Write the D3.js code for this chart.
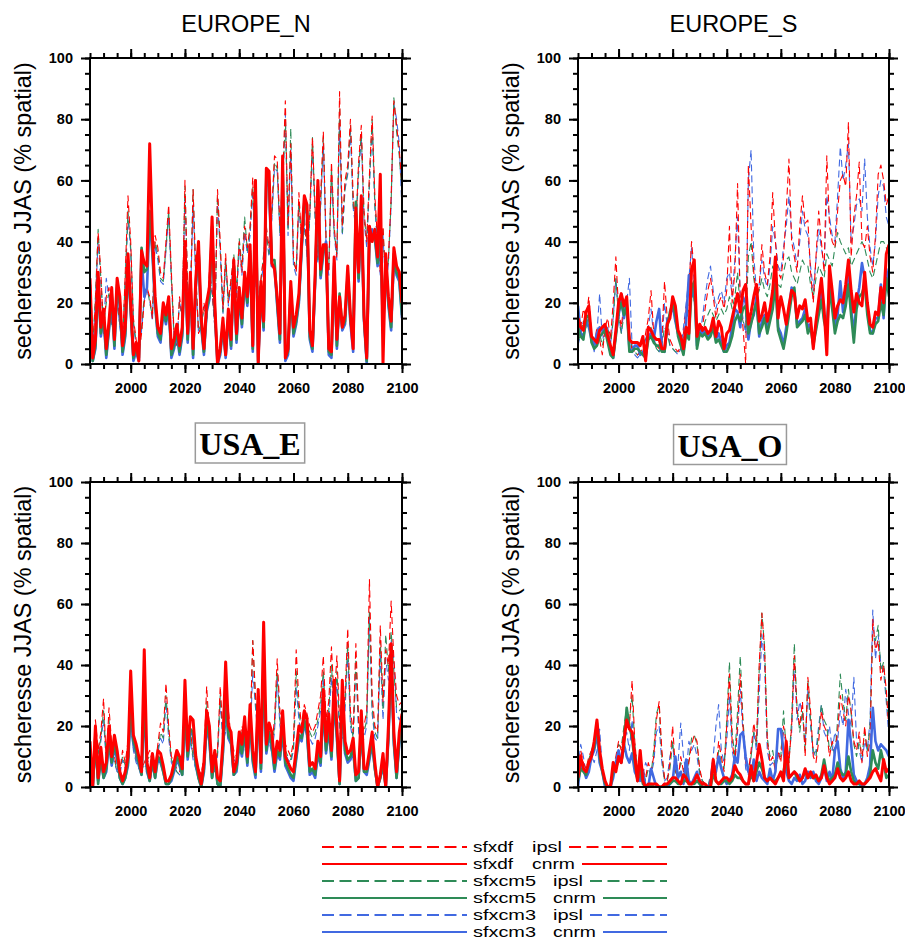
<!DOCTYPE html>
<html><head><meta charset="utf-8">
<script src="https://cdn.jsdelivr.net/npm/d3@7"></script>
<style>
body{margin:0;background:#fff;}
svg{display:block;}
text{font-family:"Liberation Sans",Arial,Helvetica,sans-serif;}
</style>
</head><body>
<svg id="chart" width="905" height="943"></svg>
<script>
// ---------------- categories / ticks ----------------
const years = [
1985,1986,1987,1988,1989,1990,1991,1992,1993,1994,
1995,1996,1997,1998,1999,2000,2001,2002,2003,2004,
2005,2006,2007,2008,2009,2010,2011,2012,2013,2014,
2015,2016,2017,2018,2019,2020,2021,2022,2023,2024,
2025,2026,2027,2028,2029,2030,2031,2032,2033,2034,
2035,2036,2037,2038,2039,2040,2041,2042,2043,2044,
2045,2046,2047,2048,2049,2050,2051,2052,2053,2054,
2055,2056,2057,2058,2059,2060,2061,2062,2063,2064,
2065,2066,2067,2068,2069,2070,2071,2072,2073,2074,
2075,2076,2077,2078,2079,2080,2081,2082,2083,2084,
2085,2086,2087,2088,2089,2090,2091,2092,2093,2094,
2095,2096,2097,2098,2099,2100];
const regionNames = ["EUROPE_N","EUROPE_S","USA_E","USA_O"];
const legendModels = ["sfxdf","sfxdf","sfxcm5","sfxcm5","sfxcm3","sfxcm3"];
const legendForcings = ["ipsl","cnrm","ipsl","cnrm","ipsl","cnrm"];
const xMajorTicks = [2000,2020,2040,2060,2080,2100];
const xMinorTicks = [1985,1990,1995,2000,2005,2010,2015,2020,2025,2030,2035,2040,2045,2050,2055,2060,2065,2070,2075,2080,2085,2090,2095,2100];
const yMajorTicks = [0,20,40,60,80,100];
const yMinorTicks = [0,5,10,15,20,25,30,35,40,45,50,55,60,65,70,75,80,85,90,95,100];
const yAxisTitle = "secheresse JJAS (% spatial)";

// ---------------- EUROPE_N ----------------
const eurN_sfxdf_ipsl = [
15,4,20,43,30,10,22,25,15,8,
22,14,6,30,55,40,15,8,3,10,
20,25,22,15,42,38,30,28,40,52,
30,10,6,22,15,60,25,20,57,30,
10,12,20,15,30,25,12,57,40,18,
36,20,28,35,22,40,30,45,38,45,
61,30,20,28,35,45,38,50,68,67,
45,60,86,45,72,35,30,56,40,48,
38,50,74,50,35,55,76,40,30,66,
45,35,89,45,60,65,80,55,45,66,
78,50,40,62,81,55,40,30,45,25,
35,55,86,78,70,58];
const eurN_sfxdf_cnrm = [
28,2,8,30,12,18,5,14,25,8,
28,22,6,12,36,20,3,7,1,37,
33,32,72,42,22,12,10,20,16,22,
5,8,13,6,12,40,10,30,5,28,
40,15,5,20,25,48,20,0,5,15,
3,18,8,34,10,25,15,30,22,39,
6,60,0,27,14,64,63,33,31,22,
10,68,2,5,27,12,16,23,40,55,
52,11,6,30,60,31,39,39,5,4,
35,8,22,12,16,32,16,5,51,30,
55,16,2,45,40,44,35,62,0,36,
22,14,38,32,30,20];
const eurN_sfxcm5_ipsl = [
14,5,22,44,28,12,20,23,14,7,
20,13,7,28,50,38,14,7,4,12,
22,26,20,16,40,36,28,27,38,50,
28,9,7,20,16,58,24,22,57,28,
11,13,18,16,28,24,13,55,38,17,
34,21,27,36,24,41,32,48,37,44,
58,28,21,27,36,43,36,48,66,64,
43,58,80,44,77,33,31,53,41,46,
37,48,74,48,34,52,74,42,31,64,
43,36,84,43,58,63,78,52,46,64,
75,48,41,60,80,52,42,32,44,26,
34,53,87,76,68,56];
const eurN_sfxcm5_cnrm = [
26,1,6,28,10,16,3,12,23,6,
26,20,4,10,33,18,2,5,2,38,
30,31,50,38,20,10,8,18,14,20,
3,6,11,4,10,38,8,28,3,26,
38,13,4,18,22,45,18,1,4,13,
3,16,6,32,8,23,13,28,20,37,
5,60,1,25,12,62,60,34,34,20,
8,65,2,4,25,10,14,21,38,53,
50,9,5,28,58,29,37,38,4,3,
33,6,23,12,14,30,14,8,53,28,
52,15,1,43,42,42,33,45,12,34,
20,12,36,30,28,16];
const eurN_sfxcm3_ipsl = [
13,4,21,40,27,11,28,22,13,8,
21,12,6,27,48,37,13,6,3,11,
21,24,21,14,39,34,27,26,37,48,
27,8,6,21,14,55,23,21,52,27,
10,12,19,14,27,23,12,54,37,16,
33,19,26,33,21,38,29,43,36,42,
57,27,19,26,33,42,35,47,64,63,
42,57,82,42,70,32,29,52,38,45,
35,47,70,47,33,51,72,39,29,62,
42,34,80,42,57,62,76,51,44,62,
74,47,38,58,78,51,38,29,42,24,
33,52,85,80,72,50];
const eurN_sfxcm3_cnrm = [
25,1,5,27,9,15,2,11,22,5,
25,19,3,9,32,17,1,4,1,35,
22,25,48,36,19,9,7,17,13,19,
2,5,10,3,9,37,7,27,2,25,
37,12,3,17,21,44,17,0,3,12,
2,15,5,31,7,22,12,27,19,36,
4,58,0,24,11,60,58,32,32,19,
7,63,1,3,24,9,13,20,37,52,
49,8,4,27,57,28,36,40,3,2,
32,5,21,11,13,29,13,4,50,27,
50,14,0,42,44,41,32,44,10,33,
19,11,35,29,27,15];

// ---------------- EUROPE_S ----------------
const eurS_sfxdf_ipsl = [
8,12,18,15,22,10,6,12,8,3,
12,15,8,20,35,18,12,20,22,8,
5,4,3,4,5,10,15,24,10,6,
5,8,27,15,8,6,5,4,6,10,
18,25,40,30,12,10,12,18,24,28,
22,15,20,22,18,24,45,20,30,59,
20,12,0,65,45,30,22,25,39,30,
26,35,56,40,30,28,35,50,67,40,
35,30,45,55,46,47,30,20,35,50,
40,30,68,45,40,38,50,60,62,58,
79,35,48,55,66,40,38,45,35,30,
42,62,65,60,52,55];
const eurS_sfxdf_cnrm = [
15,12,11,17,19,9,8,7,11,12,
13,9,6,3,11,20,23,19,22,8,
7,7,7,6,9,1,12,11,9,8,
8,5,5,13,15,22,19,11,9,5,
12,10,31,34,9,13,11,12,10,11,
15,9,14,12,5,10,11,15,19,23,
17,24,26,13,17,22,26,14,16,20,
14,18,24,35,15,22,18,13,19,24,
23,15,19,18,21,14,15,5,14,21,
28,18,3,32,24,15,19,21,20,26,
34,24,17,23,20,19,30,20,13,12,
17,16,25,20,36,39];
const eurS_sfxcm5_ipsl = [
7,10,14,12,15,8,5,9,10,6,
10,12,6,14,28,15,10,16,18,10,
5,4,3,4,4,8,10,12,8,5,
4,6,12,10,6,5,4,4,5,8,
14,18,28,20,10,9,10,14,16,18,
16,14,16,18,16,18,22,18,22,30,
18,14,12,35,40,28,22,24,28,24,
22,26,32,30,26,25,30,34,35,30,
28,26,30,34,32,32,26,22,28,32,
30,28,36,34,32,38,43,40,38,36,
38,32,34,36,38,40,38,34,30,28,
32,36,40,40,38,36];
const eurS_sfxcm5_cnrm = [
12,9,8,15,16,7,5,6,9,10,
11,7,3,2,9,17,20,16,19,4,
4,5,5,4,3,2,8,9,7,6,
6,4,4,12,17,20,16,9,6,3,
10,8,25,27,5,10,9,10,8,9,
12,7,8,6,4,4,6,9,14,16,
14,18,19,10,13,17,20,10,12,15,
10,14,18,26,11,8,5,10,16,22,
25,12,13,14,16,10,12,6,11,16,
21,14,10,24,18,10,14,16,15,19,
26,16,7,18,22,23,26,16,10,10,
13,14,20,16,28,22];
const eurS_sfxcm3_ipsl = [
6,10,14,12,16,8,4,10,23,8,
10,12,6,15,28,16,10,18,20,28,
6,3,2,3,4,8,12,18,9,5,
4,6,20,12,6,5,4,3,5,12,
20,28,38,26,10,9,15,22,28,32,
24,18,22,24,20,28,30,22,34,48,
22,15,10,60,70,35,24,26,34,28,
25,32,45,40,32,30,38,45,55,42,
38,32,40,50,44,42,32,24,34,44,
38,32,55,48,42,40,55,71,60,65,
72,40,45,52,54,50,67,48,38,32,
40,55,60,58,48,45];
const eurS_sfxcm3_cnrm = [
19,10,9,14,12,8,6,10,12,11,
12,8,4,2,10,16,21,15,20,5,
4,6,6,3,4,3,9,10,8,14,
18,5,4,14,16,19,14,10,7,4,
14,29,22,26,6,11,10,11,9,10,
13,8,10,7,4,6,7,12,18,17,
12,22,20,8,14,16,22,9,14,16,
12,16,22,30,12,10,6,12,18,25,
24,13,14,15,18,12,13,7,12,18,
24,15,12,26,20,12,16,27,17,22,
30,18,10,20,25,33,28,18,11,10,
15,15,26,15,31,25];

// ---------------- USA_E ----------------
const usaE_sfxdf_ipsl = [
10,5,22,12,18,29,8,26,14,10,
6,5,12,8,15,25,14,10,8,6,
8,10,12,8,6,14,21,18,34,20,
10,8,6,5,10,30,14,18,12,8,
6,4,10,33,18,8,6,12,33,18,
22,25,16,12,10,15,20,16,12,18,
48,30,20,22,47,20,18,14,22,42,
25,18,14,12,10,15,45,28,20,27,
24,20,18,20,25,30,43,22,28,46,
28,43,22,20,30,52,25,18,47,22,
15,20,25,68,30,20,18,53,28,45,
40,61,42,30,27,28];
const usaE_sfxdf_cnrm = [
15,0,20,3,13,5,8,20,10,17,
12,5,2,5,10,38,17,14,10,5,
45,8,3,11,5,12,11,7,2,2,
4,8,12,10,6,35,12,23,22,10,
5,1,8,25,20,5,12,3,2,15,
41,20,18,5,8,18,14,23,10,27,
12,5,32,8,54,14,21,18,8,15,
12,25,10,8,6,5,12,20,18,25,
22,7,8,6,15,10,32,15,24,12,
35,20,2,35,15,11,12,16,4,5,
25,6,6,12,18,8,0,4,11,0,
20,47,18,5,18,24];
const usaE_sfxcm5_ipsl = [
9,6,20,11,16,25,9,22,12,9,
5,5,10,7,14,22,13,9,7,6,
7,9,10,7,5,12,18,16,30,18,
9,7,5,4,9,26,12,16,10,7,
5,4,9,28,16,7,5,11,30,16,
20,22,14,10,9,14,18,14,10,16,
48,28,18,20,40,18,16,12,20,38,
22,16,12,10,9,13,38,25,18,24,
22,18,16,18,22,27,38,20,25,40,
25,38,20,18,28,47,22,16,42,20,
14,18,22,58,26,18,16,48,25,50,
38,51,38,26,25,26];
const usaE_sfxcm5_cnrm = [
10,0,15,1,10,3,6,16,8,14,
10,3,1,3,8,28,15,12,8,4,
30,6,2,9,3,10,9,5,1,1,
3,6,10,8,4,26,10,19,18,8,
3,0,6,22,16,3,10,1,0,12,
30,17,15,4,6,15,11,19,8,23,
9,4,28,6,40,12,18,14,6,12,
10,20,8,6,4,3,10,17,16,22,
18,5,6,4,12,8,28,12,20,10,
30,17,1,30,12,9,10,13,2,3,
20,5,5,10,15,6,0,3,8,0,
17,44,15,3,15,20];
const usaE_sfxcm3_ipsl = [
8,5,18,10,15,22,8,20,11,8,
5,4,9,6,12,20,12,8,6,5,
6,8,9,6,5,11,16,14,28,16,
8,6,5,4,8,24,11,15,9,6,
4,3,8,26,14,6,5,10,28,15,
18,20,13,9,8,12,16,13,9,15,
38,26,16,18,36,16,15,11,18,36,
20,15,11,9,8,12,33,22,16,22,
20,16,14,16,20,25,36,18,22,36,
22,35,18,16,25,44,20,15,40,18,
13,16,20,55,24,16,15,44,22,42,
35,48,42,24,22,24];
const usaE_sfxcm3_cnrm = [
9,0,14,2,9,3,5,15,7,13,
9,3,1,3,7,25,14,11,7,4,
28,5,2,8,3,9,8,5,1,1,
2,5,9,7,4,24,9,18,17,7,
3,0,5,20,15,3,9,1,0,11,
28,16,14,4,5,14,10,18,7,22,
8,3,26,5,36,11,17,13,5,11,
9,18,7,5,3,2,9,16,15,21,
17,4,5,3,11,7,26,11,19,9,
28,16,1,28,11,8,9,12,2,3,
19,5,4,9,14,6,0,3,7,0,
16,42,14,3,14,19];

// ---------------- USA_O ----------------
const usaO_sfxdf_ipsl = [
5,12,8,6,10,12,14,18,10,6,
2,0,1,6,10,15,12,18,25,20,
35,15,5,2,6,3,8,5,10,22,
28,12,3,2,8,20,6,2,10,5,
2,8,14,17,15,6,2,1,0,2,
8,5,15,10,5,20,37,15,8,20,
37,20,8,5,12,21,15,40,57,45,
15,8,10,5,12,8,20,15,8,20,
43,25,20,28,10,36,25,10,8,15,
25,20,18,10,15,12,18,30,25,20,
30,25,15,12,18,8,20,10,15,55,
45,48,35,40,32,18];
const usaO_sfxdf_cnrm = [
3,10,6,5,8,10,15,22,12,6,
2,0,0,8,5,10,8,15,22,19,
18,10,2,12,2,0,1,1,1,1,
0,0,1,1,2,3,3,2,1,4,
3,1,1,2,4,2,1,1,0,0,
9,2,1,2,3,3,2,3,7,5,
4,2,1,1,7,2,8,14,9,3,
2,3,2,1,3,5,2,15,3,4,
5,4,2,3,6,3,5,3,4,2,
3,7,3,1,2,3,6,3,2,3,
5,2,1,1,2,1,1,2,3,5,
6,4,2,9,5,6];
const usaO_sfxcm5_ipsl = [
4,10,7,5,9,12,15,22,12,5,
2,0,1,5,9,14,13,20,26,22,
30,14,6,3,5,2,6,4,12,24,
27,10,2,2,6,15,5,3,8,6,
3,9,16,17,14,5,2,1,0,3,
6,4,12,8,6,22,41,18,10,25,
43,22,10,6,10,18,14,38,57,46,
16,10,12,6,10,10,25,12,8,22,
47,26,18,25,12,35,22,12,10,18,
27,22,20,12,14,10,22,37,28,22,
32,24,14,10,15,10,18,12,20,50,
48,53,38,41,30,20];
const usaO_sfxcm5_cnrm = [
2,6,5,4,8,11,13,21,10,5,
1,0,0,5,6,9,8,14,26,20,
16,8,2,6,1,0,0,1,0,0,
0,0,0,1,1,2,2,1,1,2,
2,1,1,1,2,1,0,0,0,0,
4,2,1,1,2,2,1,2,4,3,
3,2,1,1,4,2,5,8,6,3,
2,3,2,2,3,4,5,10,3,4,
5,3,2,3,5,3,4,3,3,2,
4,9,4,2,3,4,8,5,4,4,
10,5,2,1,1,1,1,2,4,12,
8,6,12,8,3,4];
const usaO_sfxcm3_ipsl = [
6,14,10,4,8,10,8,12,19,6,
1,0,0,4,8,12,10,15,18,12,
22,10,4,2,4,8,6,4,8,18,
20,8,2,3,10,14,5,8,21,10,
4,15,12,14,10,4,2,1,0,4,
10,20,27,12,8,15,30,12,7,18,
32,18,6,4,10,18,12,30,50,40,
12,7,8,6,10,12,18,14,10,18,
40,22,28,24,14,32,20,10,12,20,
27,18,16,20,12,18,15,25,20,32,
24,20,36,15,12,8,15,12,22,58,
42,50,40,38,28,16];
const usaO_sfxcm3_cnrm = [
0,8,6,3,5,10,12,18,8,5,
0,0,0,3,8,12,8,14,10,8,
11,5,3,2,5,0,0,6,3,0,
0,0,1,0,1,2,10,3,5,1,
9,2,1,3,5,1,0,0,0,1,
8,5,10,6,3,1,2,4,10,8,
17,18,10,5,3,9,2,5,3,2,
1,6,2,5,19,19,12,5,2,1,
3,2,4,1,2,5,3,5,2,1,
3,7,2,5,2,12,15,6,3,5,
22,14,4,2,1,0,1,3,7,26,
15,12,14,13,12,10];

// series order matches the legend rows
const regionSeries = [
  [eurN_sfxdf_ipsl, eurN_sfxdf_cnrm, eurN_sfxcm5_ipsl, eurN_sfxcm5_cnrm, eurN_sfxcm3_ipsl, eurN_sfxcm3_cnrm],
  [eurS_sfxdf_ipsl, eurS_sfxdf_cnrm, eurS_sfxcm5_ipsl, eurS_sfxcm5_cnrm, eurS_sfxcm3_ipsl, eurS_sfxcm3_cnrm],
  [usaE_sfxdf_ipsl, usaE_sfxdf_cnrm, usaE_sfxcm5_ipsl, usaE_sfxcm5_cnrm, usaE_sfxcm3_ipsl, usaE_sfxcm3_cnrm],
  [usaO_sfxdf_ipsl, usaO_sfxdf_cnrm, usaO_sfxcm5_ipsl, usaO_sfxcm5_cnrm, usaO_sfxcm3_ipsl, usaO_sfxcm3_cnrm]
];

// ---------------- styles & layout ----------------
const RED = "#ff0000", GREEN = "#2e8b57", BLUE = "#4169e1";
const seriesStyle = [
  {color: RED,   dashed: true,  w: 1.1},
  {color: RED,   dashed: false, w: 3},
  {color: GREEN, dashed: true,  w: 1.1},
  {color: GREEN, dashed: false, w: 2.6},
  {color: BLUE,  dashed: true,  w: 1.1},
  {color: BLUE,  dashed: false, w: 2.6}
];
const drawOrder = [4, 2, 0, 5, 3, 1];

const panels = [
  {left: 90,  top: 58,  w: 312, h: 306, boxed: false, titleX: 246,   titleY: 32},
  {left: 578, top: 58,  w: 311, h: 306, boxed: false, titleX: 733.5, titleY: 32},
  {left: 90,  top: 482, w: 312, h: 305, boxed: true,  titleX: 250,   titleY: 455},
  {left: 578, top: 482, w: 311, h: 305, boxed: true,  titleX: 730,   titleY: 456.5}
];

const svg = d3.select("#chart");
svg.append("rect").attr("width", 905).attr("height", 943).attr("fill", "#fff");

function styleAxis(g, fontSize) {
  g.select(".domain").remove();
  g.selectAll(".tick line").attr("stroke", "#000").attr("stroke-width", 2);
  g.selectAll(".tick text")
    .attr("fill", "#000")
    .style("font-family", '"Liberation Sans",Arial,Helvetica,sans-serif')
    .style("font-size", fontSize + "px")
    .style("font-weight", "bold");
}

panels.forEach((p, pi) => {
  const x = d3.scaleLinear().domain([1985, 2100]).range([p.left, p.left + p.w]);
  const y = d3.scaleLinear().domain([0, 100]).range([p.top + p.h, p.top]);
  const bottom = p.top + p.h, right = p.left + p.w;
  const g = svg.append("g");

  const clipId = "clip" + pi;
  g.append("clipPath").attr("id", clipId).append("rect")
    .attr("x", p.left).attr("y", p.top).attr("width", p.w).attr("height", p.h);

  const line = d3.line().x((d, i) => x(years[i])).y(d => y(d));
  const lg = g.append("g").attr("clip-path", `url(#${clipId})`);
  drawOrder.forEach(si => {
    const st = seriesStyle[si];
    lg.append("path")
      .datum(regionSeries[pi][si])
      .attr("d", line)
      .attr("fill", "none")
      .attr("stroke", st.color)
      .attr("stroke-width", st.w)
      .attr("stroke-linejoin", "round")
      .attr("stroke-dasharray", st.dashed ? "7,4" : null);
  });

  const mk = (axis, tr, vals, size, labels, pad) => {
    const a = axis.tickValues(vals).tickSize(size).tickSizeOuter(0).tickPadding(pad || 3);
    if (!labels) a.tickFormat("");
    else a.tickFormat(d3.format("d"));
    const ag = g.append("g").attr("transform", tr).call(a);
    styleAxis(ag, 14.5);
    return ag;
  };
  mk(d3.axisBottom(x), `translate(0,${bottom})`, xMinorTicks, 5, false);
  mk(d3.axisBottom(x), `translate(0,${bottom})`, xMajorTicks, 9, true, 10);
  mk(d3.axisTop(x), `translate(0,${p.top})`, xMinorTicks, 5, false);
  mk(d3.axisTop(x), `translate(0,${p.top})`, xMajorTicks, 9, false);
  mk(d3.axisLeft(y), `translate(${p.left},0)`, yMinorTicks, 5, false);
  mk(d3.axisLeft(y), `translate(${p.left},0)`, yMajorTicks, 9, true, 8);
  mk(d3.axisRight(y), `translate(${right},0)`, yMinorTicks, 5, false);
  mk(d3.axisRight(y), `translate(${right},0)`, yMajorTicks, 9, false);

  g.append("rect").attr("x", p.left).attr("y", p.top).attr("width", p.w).attr("height", p.h)
    .attr("fill", "none").attr("stroke", "#000").attr("stroke-width", 2);

  const cy = p.top + p.h / 2, cx = p.left - 59;
  g.append("text")
    .attr("transform", `translate(${cx},${cy}) rotate(-90)`)
    .attr("text-anchor", "middle")
    .style("font-size", "23.4px")
    .attr("fill", "#000")
    .text(yAxisTitle);

  if (!p.boxed) {
    g.append("text").attr("x", p.titleX).attr("y", p.titleY)
      .attr("text-anchor", "middle").style("font-size", "23.5px").attr("fill", "#000")
      .text(regionNames[pi]);
  } else {
    const box = g.append("rect");
    const t = g.append("text").attr("x", p.titleX).attr("y", p.titleY)
      .attr("text-anchor", "middle")
      .style("font-family", '"Liberation Serif","Times New Roman",Times,serif')
      .style("font-weight", "bold").style("font-size", "32px").attr("fill", "#000")
      .text(regionNames[pi]);
    const bb = t.node().getBBox();
    box.attr("x", bb.x - 4).attr("y", bb.y - 3).attr("width", bb.width + 8).attr("height", bb.height + 4)
      .attr("fill", "#fff").attr("stroke", "#9a9a9a").attr("stroke-width", 1.5);
  }
});

// ---------------- legend ----------------
const leg = svg.append("g");
const legTop = 847, legStep = 17, legLeft = 322, legLineEnd = 467, legTextX = 473, legRight = 667;
const legFont = 14.5;
legendModels.forEach((m, i) => {
  const st = seriesStyle[i];
  const yy = legTop + i * legStep;
  const secondX = m === "sfxdf" ? 532 : 553;
  leg.append("text").attr("x", legTextX).attr("y", yy + 5)
    .style("font-size", legFont + "px").attr("textLength", m === "sfxdf" ? 40 : 63)
    .attr("lengthAdjust", "spacingAndGlyphs").attr("fill", "#000").text(m);
  const t2 = leg.append("text").attr("x", secondX).attr("y", yy + 5)
    .style("font-size", legFont + "px").attr("fill", "#000")
    .attr("textLength", legendForcings[i] === "ipsl" ? 30 : 43)
    .attr("lengthAdjust", "spacingAndGlyphs").text(legendForcings[i]);
  const w2 = legendForcings[i] === "ipsl" ? 30 : 43;
  const dash = st.dashed ? "12,5.5" : null;
  leg.append("line").attr("x1", legLeft).attr("x2", legLineEnd).attr("y1", yy).attr("y2", yy)
    .attr("stroke", st.color).attr("stroke-width", 2).attr("stroke-dasharray", dash);
  leg.append("line").attr("x1", secondX + w2 + 7).attr("x2", legRight).attr("y1", yy).attr("y2", yy)
    .attr("stroke", st.color).attr("stroke-width", 2).attr("stroke-dasharray", dash);
});
</script>
</body></html>
